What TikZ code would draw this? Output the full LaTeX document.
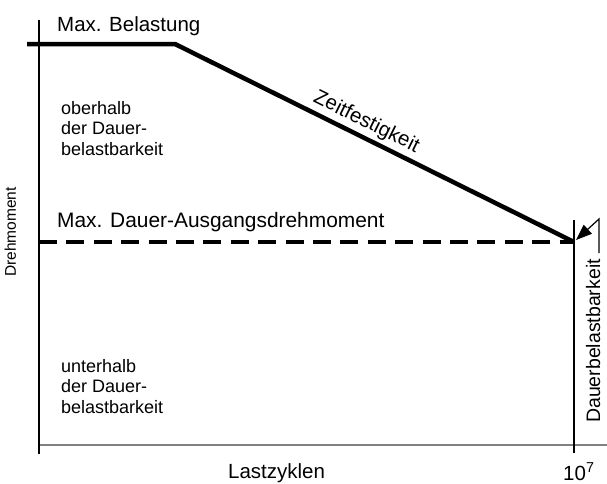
\documentclass[tikz,border=0pt]{standalone}
\usepackage{fontspec}
\setmainfont{Liberation Sans}
\usetikzlibrary{arrows.meta,positioning}
\tikzset{
  load/.style={line width=4.5pt, black},
  axis/.style={line width=1.1pt, black},
  base/.style={line width=2.2pt, black!50},
  lbl/.style={font=\fontsize{20.5}{24}\selectfont, inner sep=0pt},
  zone/.style={font=\fontsize{18}{20.5}\selectfont, align=left, inner sep=0pt},
  pointer/.style={line width=1.2pt, -{Triangle[length=16pt,width=12pt]}}
}

\begin{document}
\begin{tikzpicture}[x=1pt,y=-1pt]
  \useasboundingbox (0,0) rectangle (607,483);
  \coordinate (knee) at (175,44);
  \coordinate (lim) at (574,242);
  % axes
  \draw[base] (39,445) -- (607,445);
  \draw[axis] (39,20) -- (39,454);
  \draw[axis] (574,220) -- (574,453);
  % load curve
  \draw[load] (27,44) -- (knee) -- (lim);
  \draw[load, dash pattern=on 18pt off 9.4pt] (39,242) -- (lim);
  \draw[pointer] (599,253) -- (599,219) -- (576,240);
  % labels
  \node[lbl, anchor=base west] (maxl) at (57,31) {Max. Belastung};
  \node[lbl, anchor=base, rotate=-26.4] (zf) at (364,127) {Zeitfestigkeit};
  \node[zone, anchor=base west] (ober) at (61,155) {oberhalb\\der Dauer-\\belastbarkeit};
  \node[lbl, font=\fontsize{20.9}{24}\selectfont, anchor=base west] (maxd) at (57,227) {Max. Dauer-Ausgangsdrehmoment};
  \node[zone, anchor=base west] (unter) at (61,413) {unterhalb\\der Dauer-\\belastbarkeit};
  \node[lbl, font=\fontsize{15.5}{18}\selectfont, rotate=90, anchor=base west] (ylab) at (16,277) {Drehmoment};
  \node[lbl, font=\fontsize{19.5}{23}\selectfont, rotate=90, anchor=base west] (dbl) at (600,423) {Dauerbelastbarkeit};
  \node[lbl, anchor=base west] (xlab) at (228,478) {Lastzyklen};
  \node[lbl, anchor=base west] (ten) at (563,480) {10\textsuperscript{7}};
\end{tikzpicture}
\end{document}
